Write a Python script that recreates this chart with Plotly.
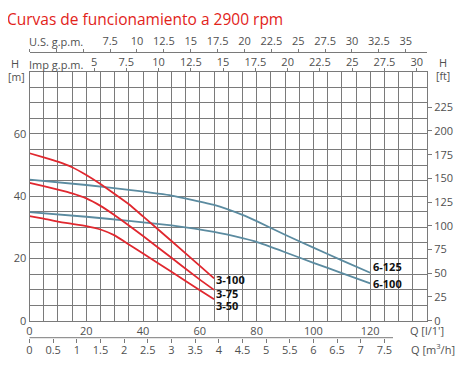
import plotly.graph_objects as go

# page window 463x366; the html body has an 8px margin, so the figure is offset by 8px
PAGE_W, PAGE_H = 463, 366
OFF = 8
W, H = PAGE_W - OFF, PAGE_H - OFF

# ---- data ----
q_3 = [0, 5, 10, 15, 20, 25, 30, 35, 40, 50, 60, 65]
h_3_100 = [53.8, 52.5, 51.1, 49.3, 46.8, 43.9, 40.7, 37.4, 33.5, 25.6, 17.6, 13.6]
h_3_75 = [44.3, 43.2, 42.1, 40.9, 39.3, 36.9, 33.9, 30.6, 27.2, 20.2, 13.2, 9.9]
h_3_50 = [33.6, 32.8, 31.8, 31.1, 30.4, 29.3, 27.4, 24.5, 21.6, 15.7, 9.8, 6.9]

q_6 = [0, 20, 35, 50, 65, 75, 80, 90, 100, 110, 120]
h_6_125 = [45.3, 43.6, 42.0, 40.2, 37.2, 34.0, 32.0, 27.6, 23.5, 19.4, 15.4]
h_6_100 = [34.9, 33.4, 32.1, 30.6, 28.5, 26.5, 25.3, 22.0, 18.6, 15.3, 12.0]

q_ticks = list(range(0, 141, 5))
q_labels = [str(v) if (v % 20 == 0 and v <= 120) else "" for v in q_ticks]
q_labels[-1] = "Q [l/1']"
h_ticks = list(range(0, 81, 5))
h_labels = [str(v) if (v % 20 == 0 and v <= 60) else "" for v in h_ticks]
ft_ticks = list(range(0, 226, 25))
m3h_ticks = [i * 0.5 for i in range(0, 16)]
m3h_labels = [("%g" % v) for v in m3h_ticks]
imp_ticks = [5 + 2.5 * i for i in range(11)]
imp_labels = [("%g" % v) for v in imp_ticks]
us_ticks = [0, 2.5, 5] + [7.5 + 2.5 * i for i in range(12)]
us_labels = ["", "", ""] + [("%g" % v) for v in us_ticks[3:]]

curve_labels = ["3-100", "3-75", "3-50", "6-125", "6-100"]


def px(x):
    return (x - OFF) / W


def py(y):
    return 1 - (y - OFF) / H


# ---- geometry (page pixels) ----
x0, x1 = 29.5, 427.0
y_top, y_bot = 71.7, 320.7
Q_MAX = 140.0
H_MAX = 80.0
xdom = [px(x0), px(x1)]
ydom = [py(y_bot), py(y_top)]
M3H_LINE_END = 393.0
M3H_Y = 337.7
US_Y = 52.3

RED = "#e0282f"
BLUE = "#5b8ba0"
GRID = "#7a7a7a"
TXT = "#505050"
FONT = "Open Sans"

fig = go.Figure()
for qq, hh, col in [(q_6, h_6_125, BLUE), (q_6, h_6_100, BLUE),
                    (q_3, h_3_100, RED), (q_3, h_3_75, RED), (q_3, h_3_50, RED)]:
    fig.add_trace(go.Scatter(x=qq, y=hh, mode="lines",
                             line=dict(color=col, width=1.8, shape="spline", smoothing=0.35),
                             hoverinfo="skip", showlegend=False))

# empty traces so the secondary (overlaying) axes are drawn
for xa in ["x2", "x3", "x4"]:
    fig.add_trace(go.Scatter(x=[None], y=[None], xaxis=xa, yaxis="y", showlegend=False, hoverinfo="skip"))
fig.add_trace(go.Scatter(x=[None], y=[None], xaxis="x", yaxis="y2", showlegend=False, hoverinfo="skip"))

tickfont = dict(family=FONT, size=11, color=TXT)

fig.update_layout(
    width=W, height=H, margin=dict(l=0, r=0, t=0, b=0),
    paper_bgcolor="white", plot_bgcolor="white",
    xaxis=dict(domain=xdom, range=[0, Q_MAX], tickmode="array", tickvals=q_ticks, ticktext=q_labels,
               showgrid=True, gridcolor=GRID, gridwidth=1, zeroline=False, ticks="",
               showline=True, linecolor=GRID, linewidth=1, mirror=True, tickfont=tickfont,
               anchor="y", fixedrange=True, automargin=False),
    yaxis=dict(domain=ydom, range=[0, H_MAX], tickmode="array", tickvals=h_ticks, ticktext=h_labels,
               showgrid=True, gridcolor=GRID, gridwidth=1, zeroline=False, ticks="",
               showline=True, linecolor=GRID, linewidth=1, mirror=True, tickfont=tickfont,
               anchor="x", fixedrange=True, automargin=False),
    yaxis2=dict(overlaying="y", side="right", anchor="x", range=[0, H_MAX / 0.3048],
                tickmode="array", tickvals=ft_ticks, ticks="outside", ticklen=4, tickcolor=GRID,
                showgrid=False, zeroline=False, tickfont=tickfont, fixedrange=True, automargin=False),
    xaxis2=dict(overlaying="x", anchor="free", position=py(M3H_Y), side="bottom",
                range=[0, Q_MAX / (1000 / 60)],
                tickmode="array", tickvals=m3h_ticks, ticktext=m3h_labels, ticks="outside", ticklen=4,
                tickcolor=GRID, showline=False, showgrid=False, ticklabelstandoff=-2,
                zeroline=False, tickfont=tickfont, fixedrange=True, automargin=False),
    xaxis3=dict(overlaying="x", anchor="y", side="top", range=[0, Q_MAX / 4.54609],
                tickmode="array", tickvals=imp_ticks, ticktext=imp_labels, ticks="outside", ticklen=3,
                tickcolor=GRID, showline=False, showgrid=False, zeroline=False, tickfont=tickfont,
                ticklabelstandoff=-3, fixedrange=True, automargin=False),
    xaxis4=dict(overlaying="x", anchor="free", position=py(US_Y), side="top",
                range=[0, Q_MAX / 3.78541],
                tickmode="array", tickvals=us_ticks, ticktext=us_labels, ticks="outside", ticklen=3,
                tickcolor=GRID, showline=True, linecolor=GRID, linewidth=1, showgrid=False,
                zeroline=False, tickfont=tickfont, fixedrange=True, automargin=False),
    showlegend=False,
)

# axis line of the m3/h scale (shorter than the plot width)
fig.add_shape(type="line", xref="paper", yref="paper", x0=px(x0), x1=px(M3H_LINE_END),
              y0=py(M3H_Y), y1=py(M3H_Y), line=dict(color=GRID, width=1))


def px_ann(text, x, y, size=11, color=TXT, xanchor="center", family=FONT):
    fig.add_annotation(text=text, xref="paper", yref="paper",
                       x=px(x), y=py(y), xanchor=xanchor, yanchor="middle", showarrow=False,
                       font=dict(family=family, size=size, color=color))


px_ann("Curvas de funcionamiento a 2900 rpm", 5, 19, size=15.5, color="#e2231a", xanchor="left")
px_ann("U.S. g.p.m.", 27, 42, xanchor="left")
px_ann("Imp g.p.m.", 27, 64, xanchor="left")
px_ann("H", 15, 63)
px_ann("[m]", 16, 77, size=10.5)
px_ann("H", 443, 62)
px_ann("[ft]", 443, 76, size=10.5)
px_ann("Q [m<sup>3</sup>/h]", 433, 349)

label_pos = [(65.5, 13.2), (65.5, 8.8), (65.5, 4.8), (120.6, 17.4), (120.6, 11.8)]
for txt, (lx, ly) in zip(curve_labels, label_pos):
    fig.add_annotation(text="<b>%s</b>" % txt, x=lx, y=ly, xref="x", yref="y", xanchor="left",
                       yanchor="middle", showarrow=False, borderpad=0,
                       font=dict(family=FONT, size=11, color="#111"))

fig.write_html("out.html", config={"displayModeBar": False})
